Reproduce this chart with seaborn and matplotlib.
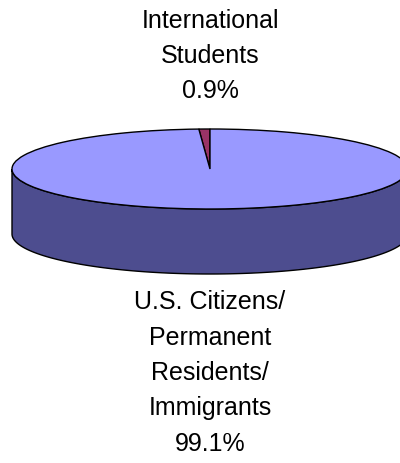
import numpy as np
import matplotlib
matplotlib.use("Agg")
import matplotlib.pyplot as plt
from matplotlib.transforms import Affine2D
import seaborn as sns

LABELS = ["International\nStudents", "U.S. Citizens/\nPermanent\nResidents/\nImmigrants"]
SHARES = [0.9, 99.1]
TOP_COLORS = ["#993366", "#9999FF"]
SIDE_COLOR = "#4D4D8F"

sns.set_theme(style="white")
plt.rcParams["font.family"] = ["Liberation Sans", "DejaVu Sans"]

W, H = 400, 464
R = 198.0          # horizontal radius in px
RY = 40.0 / R      # squash ratio
DEPTH = 65.0 / R
CX, CY = 210.0, 170.0

fig = plt.figure(figsize=(W / 100, H / 100), dpi=100)
ax = fig.add_axes([0, 0, 1, 1])
ax.axis("off")

# side of the cake (front half only)
t = np.linspace(np.pi, 2 * np.pi, 200)
xs = np.cos(t)
ys = RY * np.sin(t)
side_x = np.concatenate([xs, xs[::-1]])
side_y = np.concatenate([ys, ys[::-1] - DEPTH])
ax.fill(side_x, side_y, color=SIDE_COLOR, ec="black", lw=1, zorder=1)

wedges, _ = ax.pie(SHARES, colors=TOP_COLORS, startangle=90, counterclock=True,
                   radius=1, wedgeprops=dict(edgecolor="black", linewidth=1))
squash = Affine2D().scale(1, RY) + ax.transData
for w in wedges:
    w.set_transform(squash)
    w.set_zorder(2)
ax.set_aspect("auto")
ax.set_xlim(-CX / R, (W - CX) / R)
ax.set_ylim(-(H - CY) / R, CY / R)

ax.text(0, (CY - 56) / R, f"{LABELS[0]}\n{SHARES[0]}%", ha="center", va="center",
        fontsize=18, linespacing=1.6, color="black")
ax.text(0, (CY - 373) / R, f"{LABELS[1]}\n{SHARES[1]}%", ha="center", va="center",
        fontsize=18, linespacing=1.6, color="black")

fig.savefig("out.png", dpi=100, facecolor="white")
